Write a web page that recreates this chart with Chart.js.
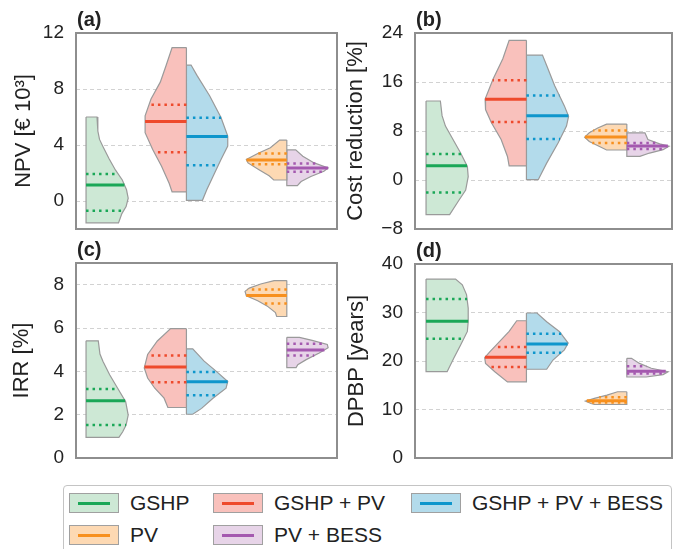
<!DOCTYPE html>
<html>
<head>
<meta charset="utf-8">
<script src="https://cdn.jsdelivr.net/npm/chart.js@4.4.0/dist/chart.umd.min.js"></script>
<style>
  body { margin: 0; background: #fff; font-family: "Liberation Sans", Arial, sans-serif; }
  #wrap { position: relative; width: 674px; height: 549px; overflow: hidden; }
  #wrap canvas { position: absolute; }
  #legend { position: absolute; left: 63px; top: 485px; width: 607px; height: 80px;
            border: 1.5px solid #c4c4c4; border-radius: 4px; }
  .item { position: absolute; display: flex; align-items: center; height: 20px;
          font-size: 21px; color: #222; white-space: nowrap; }
  .sw { position: relative; width: 48px; height: 18px; border: 1px solid #a0a0a0; margin-right: 11px; }
  .sw i { position: absolute; left: 8px; right: 8px; top: 7.5px; height: 3px; }
</style>
</head>
<body>
<div id="wrap">
  <canvas id="cA" width="340" height="240" style="left:0;top:0"></canvas>
  <canvas id="cB" width="334" height="240" style="left:340px;top:0"></canvas>
  <canvas id="cC" width="340" height="230" style="left:0;top:240px"></canvas>
  <canvas id="cD" width="334" height="230" style="left:340px;top:240px"></canvas>
  <div id="legend"></div>
</div>
<script>
// groups (legend order)
const groups = ['GSHP', 'GSHP + PV', 'GSHP + PV + BESS', 'PV', 'PV + BESS'];
const lineColors = ['#1aa757', '#ee4a2c', '#0e96cc', '#f7901e', '#a459af'];
const fillColors = ['#cde8d5', '#f9c1bc', '#b3dbeb', '#fdd9b3', '#e7d4e8'];
const outline = '#9a9a9a';

// where each half violin sits: slot on the x axis, and which side (-1 left, 1 right)
const slot = [0, 1, 1, 2, 2];
const side = [1, -1, 1, -1, 1];
const halfWidth = 0.42;

// violin outlines, [value, relative width] from top to bottom
// (a) NPV [€ 10³]
const npvGshp = [[6.0, 0.26], [5.0, 0.28], [4.4, 0.32], [3.9, 0.40], [3.0, 0.55], [2.2, 0.70], [1.5, 0.86], [0.8, 0.96], [0.2, 1.0], [-0.4, 0.95], [-0.9, 0.85], [-1.56, 0.77]];
const npvGshpPv = [[10.96, 0.34], [9.7, 0.48], [8.49, 0.62], [7.28, 0.84], [6.08, 0.98], [4.88, 0.98], [3.68, 0.80], [2.48, 0.59], [1.27, 0.41], [0.65, 0.34]];
const npvGshpPvBess = [[9.71, 0.11], [8.97, 0.25], [7.52, 0.55], [5.96, 0.82], [4.64, 0.98], [3.92, 0.98], [2.96, 0.82], [1.75, 0.63], [0.79, 0.48], [0.05, 0.38]];
const npvPv = [[4.35, 0.17], [3.8, 0.39], [3.39, 0.69], [2.96, 0.96], [2.72, 0.92], [2.24, 0.66], [1.8, 0.42], [1.5, 0.31]];
const npvPvBess = [[3.65, 0.21], [3.2, 0.38], [2.72, 0.65], [2.36, 0.98], [2.12, 0.88], [1.75, 0.57], [1.39, 0.34], [1.1, 0.25]];
const npvMedian = [1.15, 5.67, 4.6, 2.93, 2.36];
const npvQ3 = [1.92, 6.88, 5.94, 3.39, 2.67];
const npvQ1 = [-0.7, 3.49, 2.55, 2.62, 2.09];
const npvTicks = [0, 4, 8, 12];

// (b) Cost reduction [%]
const costGshp = [[12.9, 0.34], [10.5, 0.38], [8.8, 0.46], [6.6, 0.64], [4.4, 0.82], [2.2, 0.98], [0.55, 1.0], [-1.65, 0.94], [-3.3, 0.78], [-5.66, 0.56]];
const costGshpPv = [[22.8, 0.41], [19.8, 0.56], [16.5, 0.79], [13.2, 0.98], [11.5, 0.97], [9.35, 0.83], [6.6, 0.6], [3.85, 0.45], [2.3, 0.41]];
const costGshpPvBess = [[20.4, 0.38], [18.7, 0.48], [15.4, 0.67], [12.1, 0.9], [10.4, 1.0], [8.8, 0.95], [6.05, 0.75], [2.75, 0.48], [0.05, 0.28]];
const costPv = [[9.13, 0.48], [8.5, 0.69], [7.7, 0.89], [7.0, 1.0], [6.3, 0.89], [5.5, 0.66], [4.9, 0.48]];
const costPvBess = [[7.7, 0.43], [6.6, 0.5], [5.9, 0.78], [5.5, 1.0], [4.95, 0.86], [4.4, 0.54], [3.85, 0.31]];
const costMedian = [2.31, 13.2, 10.5, 7.04, 5.55];
const costQ3 = [4.23, 16.3, 13.8, 8.08, 6.05];
const costQ1 = [-2.03, 9.46, 6.7, 6.05, 5.06];
const costTicks = [-8, 0, 8, 16, 24];

// (c) IRR [%]
const irrGshp = [[5.41, 0.29], [4.8, 0.33], [4.47, 0.4], [3.84, 0.56], [3.22, 0.75], [2.6, 0.94], [1.98, 1.0], [1.52, 0.95], [1.21, 0.87], [0.95, 0.78]];
const irrGshpPv = [[5.97, 0.375], [5.4, 0.69], [4.78, 0.92], [4.16, 1.0], [3.69, 0.92], [3.22, 0.75], [2.76, 0.53], [2.33, 0.44]];
const irrGshpPvBess = [[5.04, 0.15], [4.47, 0.42], [4.0, 0.71], [3.53, 0.98], [3.22, 0.94], [2.76, 0.63], [2.29, 0.36], [2.02, 0.15]];
const irrPv = [[8.19, 0.3], [8.03, 0.62], [7.84, 0.89], [7.69, 0.99], [7.49, 0.96], [7.26, 0.69], [7.02, 0.47], [6.71, 0.27], [6.53, 0.24]];
const irrPvBess = [[5.57, 0.3], [5.43, 0.6], [5.24, 0.96], [5.09, 0.98], [4.85, 0.77], [4.54, 0.46], [4.31, 0.26], [4.17, 0.22]];
const irrMedian = [2.64, 4.2, 3.52, 7.5, 4.99];
const irrQ3 = [3.18, 4.73, 3.97, 7.78, 5.27];
const irrQ1 = [1.52, 3.5, 2.9, 7.13, 4.73];
const irrTicks = [0, 2, 4, 6, 8];

// (d) DPBP [years]
const dpbpGshp = [[36.9, 0.7], [35.7, 0.86], [33.7, 0.96], [30.9, 1.0], [28.1, 1.0], [26.1, 0.98], [23.3, 0.82], [20.6, 0.66], [17.8, 0.5]];
const dpbpGshpPv = [[28.3, 0.23], [26.1, 0.41], [24.0, 0.64], [21.9, 0.87], [20.7, 0.99], [19.5, 0.97], [17.8, 0.75], [15.7, 0.45]];
const dpbpGshpPvBess = [[29.9, 0.25], [28.1, 0.48], [26.1, 0.78], [23.7, 0.99], [22.3, 0.9], [20.2, 0.63], [18.3, 0.48]];
const dpbpPv = [[13.66, 0.22], [12.97, 0.47], [12.28, 0.77], [11.72, 0.98], [11.24, 0.85], [11.03, 0.77]];
const dpbpPvBess = [[20.55, 0.11], [19.5, 0.3], [18.5, 0.58], [17.8, 0.98], [17.2, 0.86], [16.7, 0.46]];
const dpbpMedian = [28.2, 20.76, 23.5, 11.8, 17.9];
const dpbpQ3 = [32.8, 22.9, 25.6, 12.55, 18.9];
const dpbpQ1 = [24.6, 18.76, 21.7, 11.45, 17.4];
const dpbpTicks = [0, 10, 20, 30, 40];

Chart.defaults.font.family = '"Liberation Sans", Arial, sans-serif';
Chart.defaults.color = '#222';

// width of a violin at value v (linear between outline points)
function widthAt(prof, v) {
  for (let i = 0; i < prof.length - 1; i++) {
    const [v0, w0] = prof[i], [v1, w1] = prof[i + 1];
    if (v <= v0 && v >= v1) return w0 + (w1 - w0) * (v0 - v) / (v0 - v1);
  }
  return 0;
}

const frame = {
  id: 'frame',
  afterDraw(chart) {
    const a = chart.chartArea, ctx = chart.ctx;
    ctx.save();
    ctx.strokeStyle = '#8e8e8e';
    ctx.lineWidth = 2;
    ctx.strokeRect(a.left, a.top, a.right - a.left, a.bottom - a.top);
    ctx.font = 'bold 20px "Liberation Sans", Arial, sans-serif';
    ctx.fillStyle = '#222';
    ctx.textBaseline = 'bottom';
    ctx.fillText(chart.options.plugins.frame.label, a.left + 1, a.top - 3);
    ctx.restore();
  }
};

function makePanel(id, cfg) {
  const datasets = [];
  cfg.profiles.forEach((prof, g) => {
    const p = slot[g], s = side[g];
    const top = prof[0][0], bot = prof[prof.length - 1][0];
    const pts = [{x: p, y: top}];
    prof.forEach(([v, w]) => pts.push({x: p + s * w * halfWidth, y: v}));
    pts.push({x: p, y: bot});
    pts.push({x: p, y: top});
    datasets.push({
      data: pts, borderColor: outline, borderWidth: 1.2, backgroundColor: fillColors[g],
      fill: 'shape', pointRadius: 0, tension: 0, order: 2
    });
    const addLine = (v, lw, dash) => datasets.push({
      data: [{x: p, y: v}, {x: p + s * widthAt(prof, v) * halfWidth, y: v}],
      borderColor: lineColors[g], borderWidth: lw, borderDash: dash, borderCapStyle: 'butt',
      pointRadius: 0, fill: false, order: 1
    });
    addLine(cfg.q1[g], 2.5, [2.5, 4]);
    addLine(cfg.q3[g], 2.5, [2.5, 4]);
    addLine(cfg.median[g], 3, []);
  });

  new Chart(document.getElementById(id), {
    type: 'line',
    data: {datasets},
    plugins: [frame],
    options: {
      responsive: false,
      animation: false,
      events: [],
      layout: {padding: cfg.padding},
      plugins: {legend: {display: false}, tooltip: {enabled: false}, frame: {label: cfg.label}},
      scales: {
        x: {type: 'linear', display: false, min: cfg.xMin, max: cfg.xMax},
        y: {
          min: cfg.yMin, max: cfg.yMax,
          afterBuildTicks: sc => { sc.ticks = cfg.ticks.map(v => ({value: v})); },
          afterFit: sc => { sc.width = cfg.axisWidth; },
          ticks: {
            padding: 0, font: {size: 19, lineHeight: 1.0}, color: '#222',
            callback: v => v < 0 ? '\u2212' + Math.abs(v) : String(v)
          },
          // invisible tick marks keep the labels away from the frame
          grid: {color: '#d2d2d2', lineWidth: 1, drawTicks: true, tickLength: 12, tickColor: 'rgba(0,0,0,0)'},
          border: {display: false, dash: [4, 3]},
          title: {display: true, text: cfg.title, font: {size: 22}, color: '#222', padding: {top: cfg.titlePad, bottom: 0}}
        }
      }
    }
  });
}

makePanel('cA', {
  label: '(a)', title: 'NPV [€ 10³]', profiles: [npvGshp, npvGshpPv, npvGshpPvBess, npvPv, npvPvBess],
  median: npvMedian, q1: npvQ1, q3: npvQ3, ticks: npvTicks, yMin: -2, yMax: 12,
  xMin: -0.1, xMax: 2.5, axisWidth: 76, titlePad: 11, padding: {left: 0, right: 3, top: 33, bottom: 11}
});
makePanel('cB', {
  label: '(b)', title: 'Cost reduction [%]', profiles: [costGshp, costGshpPv, costGshpPvBess, costPv, costPvBess],
  median: costMedian, q1: costQ1, q3: costQ3, ticks: costTicks, yMin: -8, yMax: 24,
  xMin: -0.11, xMax: 2.45, axisWidth: 75, titlePad: 3, padding: {left: 0, right: 2, top: 33, bottom: 11}
});
makePanel('cC', {
  label: '(c)', title: 'IRR [%]', profiles: [irrGshp, irrGshpPv, irrGshpPvBess, irrPv, irrPvBess],
  median: irrMedian, q1: irrQ1, q3: irrQ3, ticks: irrTicks, yMin: 0, yMax: 9,
  xMin: -0.1, xMax: 2.5, axisWidth: 76, titlePad: 9, padding: {left: 0, right: 3, top: 23, bottom: 12}
});
makePanel('cD', {
  label: '(d)', title: 'DPBP [years]', profiles: [dpbpGshp, dpbpGshpPv, dpbpGshpPvBess, dpbpPv, dpbpPvBess],
  median: dpbpMedian, q1: dpbpQ1, q3: dpbpQ3, ticks: dpbpTicks, yMin: 0, yMax: 40,
  xMin: -0.11, xMax: 2.45, axisWidth: 75, titlePad: 4, padding: {left: 0, right: 2, top: 24, bottom: 12}
});

// legend, 3 columns like the original
const legendCol = [0, 1, 2, 0, 1];
const legendRow = [0, 0, 0, 1, 1];
const colLeft = [5, 149, 347];
const rowTop = [7, 39];
const legend = document.getElementById('legend');
groups.forEach((name, g) => {
  const item = document.createElement('div');
  item.className = 'item';
  item.style.left = colLeft[legendCol[g]] + 'px';
  item.style.top = rowTop[legendRow[g]] + 'px';
  item.innerHTML = '<span class="sw" style="background:' + fillColors[g] + '"><i style="background:' +
    lineColors[g] + '"></i></span>' + name;
  legend.appendChild(item);
});
</script>
</body>
</html>
